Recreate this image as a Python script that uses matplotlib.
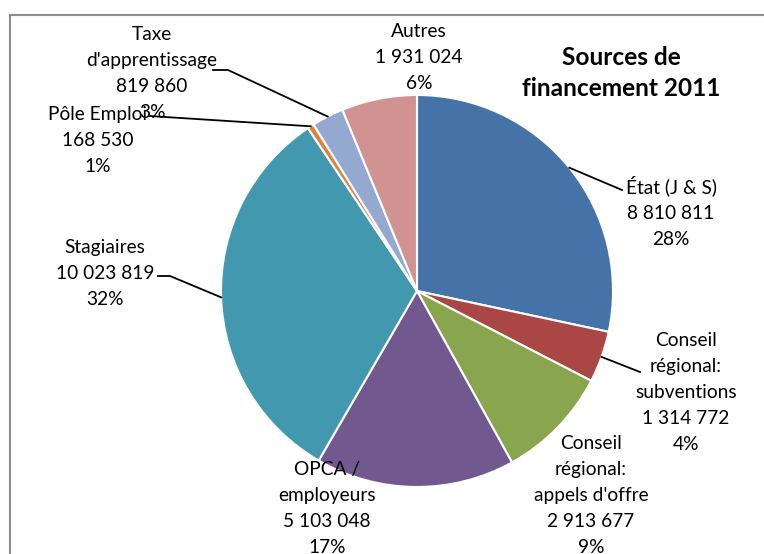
import matplotlib.pyplot as plt
import numpy as np
from matplotlib.patches import Rectangle

# Funding sources, clockwise from 12 o'clock
labels = ["État (J & S)", "Conseil\nrégional:\nsubventions", "Conseil\nrégional:\nappels d'offre",
          "OPCA /\nemployeurs", "Stagiaires", "Pôle Emploi", "Taxe\nd'apprentissage", "Autres"]
values = [8810811, 1314772, 2913677, 5103048, 10023819, 168530, 819860, 1931024]
percents = ["28%", "4%", "9%", "17%", "32%", "1%", "3%", "6%"]
colors = ["#4572A7", "#AA4643", "#89A54E", "#71588F", "#4198AF", "#DB843D", "#93A9CF", "#D19392"]

W, H = 764, 554
cx, cy, r = 417, 291, 196

# label anchor (centre x, top y) and elbow point of the leader line, in pixels
label_pos = [(671, 175), (686, 332), (591, 435), (327, 461), (105, 239), (98, 106), (152, 26), (419, 23)]
elbows = [(622, 190), (640, 372), None, None, (170, 276), (165, 117), (228, 70), None]
label_ends = [(622, 190), (640, 372), None, None, (158, 276), (150, 116), (213, 70), None]


def fmt(v):
    return f"{v:,}".replace(",", " ")


fig = plt.figure(figsize=(W / 100, H / 100), dpi=100)
ax = fig.add_axes([0, 0, 1, 1])

# chart frame
ax.add_patch(Rectangle((10, -20), W + 20, H - 15 + 20, fill=False, edgecolor="#8c8c8c", lw=1.5))

wedges, _ = ax.pie(values, colors=colors, startangle=90, counterclock=False,
                   center=(cx, H - cy), radius=r, frame=True,
                   wedgeprops=dict(edgecolor="white", linewidth=1.5))
ax.set_xlim(0, W)
ax.set_ylim(0, H)
ax.set_aspect("equal")
ax.axis("off")

font = "Lato"
for i, w in enumerate(wedges):
    text = f"{labels[i]}\n{fmt(values[i])}\n{percents[i]}"
    lx, ly = label_pos[i]
    ax.text(lx, H - ly, text, ha="center", va="top", fontsize=13.8, family=font,
            linespacing=1.64, color="#000000")
    if elbows[i] is not None:
        mid = np.deg2rad((w.theta1 + w.theta2) / 2)
        ex, ey = cx + r * np.cos(mid), (H - cy) + r * np.sin(mid)
        bx, by = elbows[i]
        tx, ty = label_ends[i]
        ax.plot([ex, bx, tx], [ey, H - by, H - ty], color="black", lw=1.3, zorder=5)

ax.text(621, H - 73, "Sources de\nfinancement 2011", ha="center", va="center",
        fontsize=17.6, family=font, fontweight="bold", linespacing=1.4)

fig.savefig("out.png", dpi=100)
